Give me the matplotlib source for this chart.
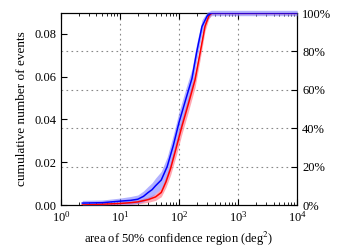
import matplotlib
matplotlib.use("Agg")
import matplotlib.pyplot as plt
import numpy as np

plt.rcParams["font.family"] = ["Liberation Serif", "DejaVu Serif"]
plt.rcParams["mathtext.fontset"] = "stix"
plt.rcParams["font.size"] = 9

# cumulative distributions of 50% credible area (fraction of events)
area_blue = [2.3, 5, 10, 15, 20, 25, 30, 35, 40, 50, 63, 80, 100, 130, 166, 200, 245, 300, 350, 10000]
frac_blue = [0.01, 0.012, 0.02, 0.024, 0.03, 0.045, 0.065, 0.08, 0.10, 0.13, 0.20, 0.31, 0.43, 0.55, 0.66, 0.80, 0.93, 0.985, 1.0, 1.0]
err_blue = [0.014, 0.014, 0.016, 0.02, 0.022, 0.028, 0.032, 0.036, 0.04, 0.045, 0.05, 0.055, 0.055, 0.055, 0.05, 0.045, 0.035, 0.02, 0.014, 0.014]

area_red = [2.3, 5, 10, 15, 20, 30, 40, 50, 60, 72, 90, 112, 145, 186, 230, 275, 320, 360, 10000]
frac_red = [0.0, 0.004, 0.008, 0.012, 0.016, 0.028, 0.042, 0.065, 0.12, 0.19, 0.30, 0.41, 0.53, 0.65, 0.80, 0.93, 0.985, 1.0, 1.0]
err_red = [0.005, 0.005, 0.007, 0.009, 0.011, 0.014, 0.018, 0.022, 0.028, 0.034, 0.04, 0.04, 0.04, 0.04, 0.035, 0.025, 0.015, 0.008, 0.008]

n_max = 0.0898  # left-axis value corresponding to 100%

left_ticks = [0.00, 0.02, 0.04, 0.06, 0.08]
right_ticks = [0.0, 0.2, 0.4, 0.6, 0.8, 1.0]
right_labels = ["0%", "20%", "40%", "60%", "80%", "100%"]

fig = plt.figure(figsize=(3.5, 2.5), dpi=100)
ax = fig.add_axes([0.174, 0.18, 0.675, 0.768])
ax2 = ax.twinx()

ab = np.array(area_blue)
fb = np.array(frac_blue)
eb = np.array(err_blue)
ar = np.array(area_red)
fr = np.array(frac_red)
er = np.array(err_red)

ax2.fill_between(ar, np.clip(fr - er, 0, 1), np.clip(fr + er, 0, 1), color="#ff7a8a", alpha=0.65, lw=0, zorder=2)
ax2.fill_between(ab, np.clip(fb - eb, 0, 1.02), np.clip(fb + eb, 0, 1.02), color="#7f7fff", alpha=0.6, lw=0, zorder=3, clip_on=False)
ax2.plot(ar, fr, color="#ff0000", lw=1.1, zorder=4)
ax2.plot(ab, fb, color="#0000ff", lw=1.1, zorder=5)

ax.set_xscale("log")
ax.set_xlim(1, 1e4)
ax.set_ylim(0, n_max)
ax2.set_ylim(0, 1)
ax.set_yticks(left_ticks)
ax.set_yticklabels([f"{v:.2f}" for v in left_ticks])
ax2.set_yticks(right_ticks)
ax2.set_yticklabels(right_labels)

ax.tick_params(which="both", direction="in", top=True, right=False)
ax.tick_params(which="major", length=4)
ax.tick_params(which="minor", length=2)
ax2.tick_params(direction="in", length=4)

# grid from decades and right-axis ticks
for xv in [10, 100, 1000]:
    ax.axvline(xv, color="#888888", ls=(0, (1.5, 3)), lw=0.8, zorder=1)
for yv in right_ticks[1:-1]:
    ax2.axhline(yv, color="#888888", ls=(0, (1.5, 3)), lw=0.8, zorder=1)

ax.set_xlabel("area of 50% confidence region (deg$^2$)")
ax.set_ylabel("cumulative number of events", fontsize=9.5)

fig.savefig("out.png", dpi=100)
